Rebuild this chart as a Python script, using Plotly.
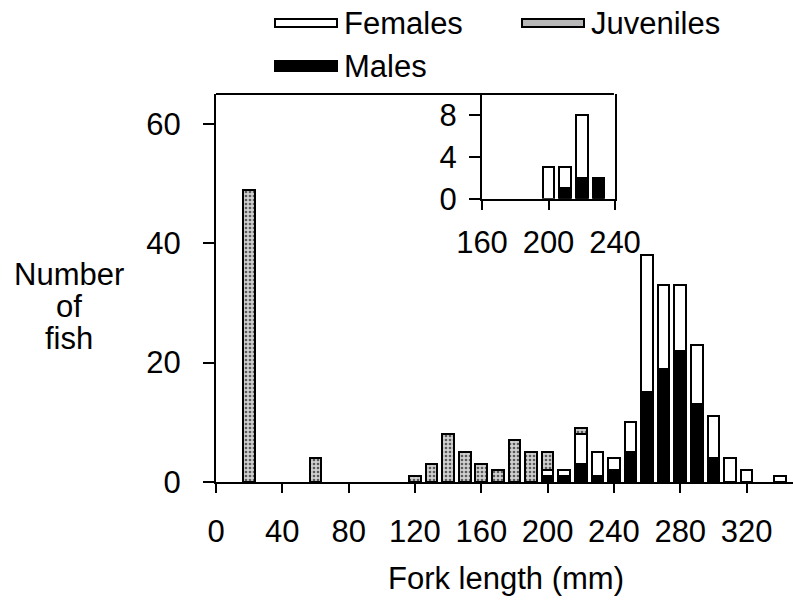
import plotly.graph_objects as go

# ---- data ----
bins = [20, 60, 120, 130, 140, 150, 160, 170, 180, 190, 200, 210, 220, 230, 240,
        250, 260, 270, 280, 290, 300, 310, 320, 330, 340]
juveniles = [49, 4, 1, 3, 8, 5, 3, 2, 7, 5, 3, 0, 1, 0, 0,
             0, 0, 0, 0, 0, 0, 0, 0, 0, 0]
females = [0, 0, 0, 0, 0, 0, 0, 0, 0, 0, 1, 1, 5, 4, 2,
           5, 23, 14, 11, 10, 7, 4, 2, 0, 1]
males = [0, 0, 0, 0, 0, 0, 0, 0, 0, 0, 1, 1, 3, 1, 2,
         5, 15, 19, 22, 13, 4, 0, 0, 0, 0]

inset_bins = [200, 210, 220, 230]
inset_females = [3, 2, 6, 0]
inset_males = [0, 1, 2, 2]

x_ticks = [0, 40, 80, 120, 160, 200, 240, 280, 320]
y_ticks = [0, 20, 40, 60]
inset_x_ticks = [160, 200, 240]
inset_y_ticks = [0, 4, 8]

FONT = "Liberation Sans, Arial, Helvetica, sans-serif"
FS = 31
BLACK = "#000000"
GRAY = "#b4b4b4"
BAR_W = 7


def nz(xs, vs):
    xx, yy = [], []
    for x, v in zip(xs, vs):
        if v:
            xx.append(x)
            yy.append(v)
    return xx, yy


fig = go.Figure()

juv_marker = dict(color="#c8c8c8", line=dict(color=BLACK, width=2),
                  pattern=dict(shape=".", fgcolor="#5a5a5a", bgcolor="#d0d0d0",
                               size=4, solidity=0.35, fillmode="replace"))
series = [("Males", males, dict(color=BLACK, line=dict(color=BLACK, width=2))),
          ("Females", females, dict(color="#ffffff", line=dict(color=BLACK, width=2))),
          ("Juveniles", juveniles, juv_marker)]
for name, vals, mk in series:
    xx, yy = nz(bins, vals)
    fig.add_trace(go.Bar(x=xx, y=yy, name=name, width=BAR_W, marker=mk,
                         showlegend=False, xaxis="x", yaxis="y"))

for name, vals, col in [("Males", inset_males, BLACK), ("Females", inset_females, "#ffffff")]:
    xx, yy = nz(inset_bins, vals)
    fig.add_trace(go.Bar(x=xx, y=yy, name=name, width=BAR_W,
                         marker=dict(color=col, line=dict(color=BLACK, width=2)),
                         showlegend=False, xaxis="x2", yaxis="y2"))

W, H = 793, 604
L, R, T, B = 216, 0, 94, 122
pw, ph = W - L - R, H - T - B


def px(xp):
    return (xp - L) / pw


def py(yp):
    return (H - B - yp) / ph


axis_common = dict(showgrid=False, zeroline=False, showline=True, linecolor=BLACK,
                   linewidth=2, ticks="outside", tickcolor=BLACK, tickwidth=2,
                   automargin=False,
                   tickfont=dict(family=FONT, size=FS, color=BLACK))

fig.update_layout(
    width=W, height=H,
    margin=dict(l=L, r=R, t=T, b=B, autoexpand=False),
    paper_bgcolor="white", plot_bgcolor="rgba(0,0,0,0)",
    barmode="stack", showlegend=False,
    xaxis=dict(range=[0, 348], tickvals=x_ticks, ticklen=9, ticklabelstandoff=12,
               domain=[0, 1], anchor="y", **axis_common),
    yaxis=dict(range=[0, 65], tickvals=y_ticks, ticklen=11, ticklabelstandoff=16,
               domain=[0, 1], anchor="x", **axis_common),
    xaxis2=dict(range=[160, 240], tickvals=inset_x_ticks, ticklen=9, ticklabelstandoff=6,
                domain=[px(482), px(615)], anchor="y2", **axis_common),
    yaxis2=dict(range=[0, 10], tickvals=inset_y_ticks, ticklen=11, ticklabelstandoff=6,
                domain=[py(198.7), 1], anchor="x2", mirror=True, **axis_common),
)

# top frame line
fig.add_shape(type="line", xref="x", yref="paper", x0=0, x1=240, y0=1, y1=1,
              line=dict(color=BLACK, width=2))

# x-axis title
fig.add_annotation(text="Fork length (mm)", xref="paper", yref="paper",
                   x=px(506), y=py(578), xanchor="center", yanchor="middle",
                   showarrow=False, font=dict(family=FONT, size=FS, color=BLACK))

# y-axis title (three lines)
for txt, yy in [("Number", 274), ("of", 306), ("fish", 338)]:
    fig.add_annotation(text=txt, xref="paper", yref="paper", x=px(69), y=py(yy),
                       xanchor="center", yanchor="middle", showarrow=False,
                       font=dict(family=FONT, size=FS, color=BLACK))

# legend (manual)
legend_items = [("Females", "#ffffff", 275, 23, 8), ("Juveniles", "#b8b8b8", 522, 23, 8),
                ("Males", BLACK, 275, 66, 10)]
for name, col, x0, yc, hh in legend_items:
    fig.add_shape(type="rect", xref="paper", yref="paper",
                  x0=px(x0), x1=px(x0 + 62), y0=py(yc + hh / 2), y1=py(yc - hh / 2),
                  fillcolor=col, line=dict(color=BLACK, width=2))
    fig.add_annotation(text=name, xref="paper", yref="paper", x=px(x0 + 67), y=py(yc),
                       xanchor="left", yanchor="middle", showarrow=False,
                       font=dict(family=FONT, size=FS, color=BLACK))

fig.write_html("out.html")
